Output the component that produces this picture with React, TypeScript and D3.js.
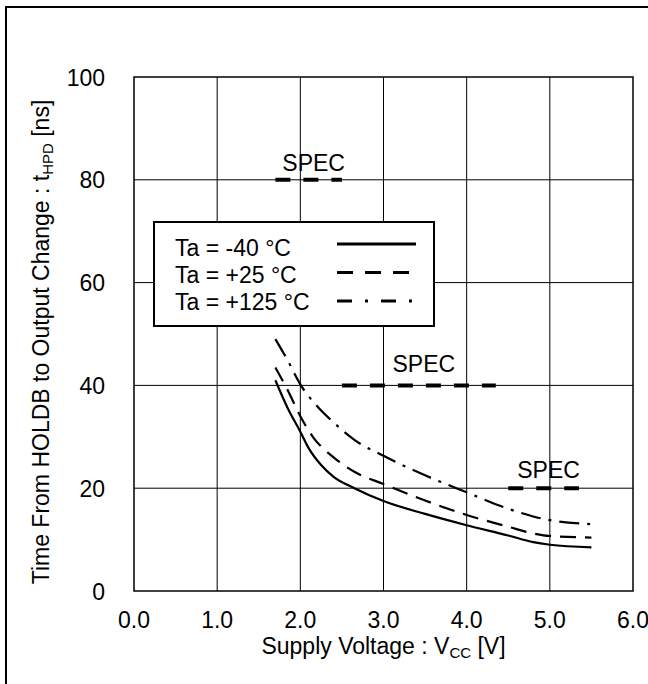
import React from "react";
import * as d3 from "d3";

const xTicks = [0, 1, 2, 3, 4, 5, 6];
const yTicks = [0, 20, 40, 60, 80, 100];

const seriesNames = ["Ta = -40 °C", "Ta = +25 °C", "Ta = +125 °C"];

const vccM40 = [1.7, 1.85, 2.0, 2.1, 2.25, 2.4, 2.65, 3.0, 3.5, 4.0, 4.5, 4.8, 5.0, 5.5];
const tM40 = [41, 35.5, 31, 27.8, 24.5, 22.2, 20, 17.5, 15, 12.8, 10.8, 9.5, 9.0, 8.5];

const vccP25 = [1.7, 1.85, 2.0, 2.15, 2.4, 2.65, 3.0, 3.5, 4.0, 4.5, 4.8, 5.0, 5.5];
const tP25 = [43.5, 39, 34, 30, 26, 23.2, 20.8, 17.6, 14.8, 12.5, 11.2, 10.7, 10.4];

const vccP125 = [1.7, 1.85, 2.0, 2.2, 2.4, 2.65, 3.0, 3.5, 4.0, 4.5, 4.8, 5.0, 5.5];
const tP125 = [49, 44.8, 40.2, 36, 32.8, 29.4, 26.3, 22.5, 19.2, 16, 14.5, 13.8, 13.0];

const specLevels = [80, 40, 20];
const specFrom = [1.7, 2.5, 4.5];
const specTo = [2.5, 4.35, 5.35];

const W = 648;
const H = 684;
const L = 134, R = 633, T = 77, B = 591;
const FONT = "'Liberation Sans', Arial, sans-serif";
const FS = 23;
const SUB = 15;

export default function App() {
  const x = d3.scaleLinear().domain([0, 6]).range([L, R]);
  const y = d3.scaleLinear().domain([0, 100]).range([B, T]);
  const line = d3
    .line<[number, number]>()
    .x((d) => x(d[0]))
    .y((d) => y(d[1]))
    .curve(d3.curveMonotoneX);

  const series = [
    { xs: vccM40, ys: tM40, dash: null as string | null },
    { xs: vccP25, ys: tP25, dash: "16,9" },
    { xs: vccP125, ys: tP125, dash: "20,8,3,8" },
  ];
  const legendDash = [null, "16,12", "15,13,3,13"];
  const specLabelDy = [-9, -13, -10];

  const legX = 154, legY = 222, legW = 280, legH = 104;

  return (
    <svg
      width={W}
      height={H}
      style={{ position: "absolute", left: 0, top: 0, display: "block", background: "#fff" }}
      fontFamily={FONT}
    >
      <rect x={0} y={0} width={W} height={H} fill="#fff" />
      <rect x={6} y={7} width={800} height={800} fill="none" stroke="#000" strokeWidth={2} />

      {/* grid */}
      {xTicks.slice(1, -1).map((t) => (
        <line key={"gx" + t} x1={x(t)} x2={x(t)} y1={T} y2={B} stroke="#000" strokeWidth={1} />
      ))}
      {yTicks.slice(1, -1).map((t) => (
        <line key={"gy" + t} x1={L} x2={R} y1={y(t)} y2={y(t)} stroke="#000" strokeWidth={1} />
      ))}
      <rect x={L} y={T} width={R - L} height={B - T} fill="none" stroke="#000" strokeWidth={1.5} />

      {/* tick labels */}
      {xTicks.map((t) => (
        <text key={"xt" + t} x={x(t)} y={628} textAnchor="middle" fontSize={FS}>
          {t.toFixed(1)}
        </text>
      ))}
      {yTicks.map((t) => (
        <text key={"yt" + t} x={105} y={y(t) + 8.5} textAnchor="end" fontSize={FS}>
          {t}
        </text>
      ))}

      {/* axis titles */}
      <text x={(L + R) / 2} y={654} textAnchor="middle" fontSize={FS}>
        Supply Voltage : V<tspan fontSize={SUB} dy={4}>CC</tspan>
        <tspan dy={-4}> [V]</tspan>
      </text>
      <text
        transform={`translate(49, ${(T + B) / 2 + 8}) rotate(-90)`}
        textAnchor="middle"
        fontSize={FS}
      >
        Time From HOLDB to Output Change : t<tspan fontSize={SUB} dy={4}>HPD</tspan>
        <tspan dy={-4}> [ns]</tspan>
      </text>

      {/* spec lines */}
      {specLevels.map((lv, i) => (
        <g key={"spec" + i}>
          <line
            x1={x(specFrom[i])}
            x2={x(specTo[i])}
            y1={y(lv)}
            y2={y(lv)}
            stroke="#000"
            strokeWidth={4}
            strokeDasharray="15,13"
          />
          <text
            x={(x(specFrom[i]) + x(specTo[i])) / 2 + 5}
            y={y(lv) + specLabelDy[i]}
            textAnchor="middle"
            fontSize={FS}
          >
            SPEC
          </text>
        </g>
      ))}

      {/* curves */}
      {series.map((s, i) => (
        <path
          key={"s" + i}
          d={line(s.xs.map((v, j) => [v, s.ys[j]] as [number, number])) || ""}
          fill="none"
          stroke="#000"
          strokeWidth={2.2}
          strokeDasharray={s.dash || undefined}
        />
      ))}

      {/* legend */}
      <rect x={legX} y={legY} width={legW} height={legH} fill="#fff" stroke="#000" strokeWidth={2} />
      {seriesNames.map((n, i) => (
        <g key={"leg" + i}>
          <text x={175} y={256 + i * 27} fontSize={FS}>
            {n}
          </text>
          <line
            x1={337}
            x2={416}
            y1={244 + i * 28.5}
            y2={244 + i * 28.5}
            stroke="#000"
            strokeWidth={3}
            strokeDasharray={legendDash[i] || undefined}
          />
        </g>
      ))}
    </svg>
  );
}
